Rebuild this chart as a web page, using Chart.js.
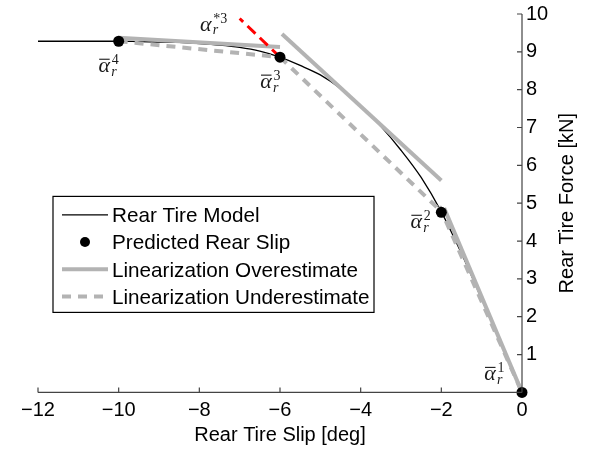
<!DOCTYPE html>
<html><head><meta charset="utf-8">
<script src="https://cdn.jsdelivr.net/npm/chart.js@4.4.0/dist/chart.umd.min.js"></script>
<style>html,body{margin:0;padding:0;background:#fff;}#wrap{width:595px;height:449px;}</style>
</head><body><div id="wrap"><canvas id="c" width="595" height="449"></canvas></div>
<script>
// ---- data ----
const modelSlip  = [-12, -11, -10, -9.5, -9, -8.5, -8, -7.5, -7, -6.5, -6, -5.5, -5, -4.5, -4, -3.5, -3, -2.5, -2, -1.5, -1, -0.5, 0];
const modelForce = [9.28, 9.28, 9.28, 9.27, 9.26, 9.25, 9.22, 9.18, 9.12, 9.02, 8.86, 8.64, 8.39, 8.03, 7.56, 7.03, 6.40, 5.68, 4.77, 3.67, 2.47, 1.24, 0];
const predSlip  = [-10, -6, -2, 0];
const predForce = [9.28, 8.86, 4.76, 0];
const predNames = ['4', '3', '2', '1'];
const overSlip  = [[-10, -6], [-5.95, -2], [-1.93, 0]];
const overForce = [[9.37, 9.13], [9.47, 5.6], [4.87, 0]];
const underSlip  = [[-10, -6], [-6, -2], [-2.05, 0]];
const underForce = [[9.28, 8.86], [8.86, 4.78], [4.92, 0]];
const extSlip  = [-6, -7];
const extForce = [8.86, 9.88];
const extName = '*3';
const xTicks = [-12, -10, -8, -6, -4, -2, 0];
const yTicks = [1, 2, 3, 4, 5, 6, 7, 8, 9, 10];
const legendLabels = ['Rear Tire Model', 'Predicted Rear Slip', 'Linearization Overestimate', 'Linearization Underestimate'];
const xTitle = 'Rear Tire Slip [deg]';
const yTitle = 'Rear Tire Force [kN]';

// ---- styles ----
const GRAY = '#b3b3b3';
const SANS = '"Liberation Sans", Arial, Helvetica, sans-serif';
const SERIF = '"Liberation Serif", "DejaVu Serif", serif';
const styleModel = {borderColor: '#000', borderWidth: 1.3, borderDash: []};
const styleOver = {borderColor: GRAY, borderWidth: 4, borderDash: []};
const styleUnder = {borderColor: GRAY, borderWidth: 4, borderDash: [9, 7]};
const styleExt = {borderColor: '#ff0000', borderWidth: 3, borderDash: [11, 6]};

function pts(xs, ys) { return xs.map((x, i) => ({x: x, y: ys[i]})); }
function fmt(v) { return v < 0 ? '\u2212' + Math.abs(v) : String(v); }

const datasets = [];
datasets.push({label: legendLabels[1], data: pts(predSlip, predForce), showLine: false, clip: false,
  pointRadius: 5.5, pointBackgroundColor: '#000', pointBorderWidth: 0, order: 0});
datasets.push(Object.assign({label: 'ext', data: pts(extSlip, extForce), showLine: true, clip: false, pointRadius: 0, order: 1}, styleExt));
underSlip.forEach((xs, i) => datasets.push(Object.assign({label: legendLabels[3], data: pts(xs, underForce[i]), showLine: true, clip: false, pointRadius: 0, order: 2}, styleUnder)));
overSlip.forEach((xs, i) => datasets.push(Object.assign({label: legendLabels[2], data: pts(xs, overForce[i]), showLine: true, clip: false, pointRadius: 0, order: 3}, styleOver)));
datasets.push(Object.assign({label: legendLabels[0], data: pts(modelSlip, modelForce), showLine: true, clip: false, pointRadius: 0,
  cubicInterpolationMode: 'monotone', order: 4}, styleModel));

function drawMath(ctx, cx, base, sup, bar) {
  ctx.fillStyle = '#1a1a1a';
  ctx.font = 'italic 22px ' + SERIF;
  ctx.textAlign = 'center';
  ctx.textBaseline = 'alphabetic';
  ctx.fillText('\u03B1', cx, base);
  if (bar) {
    ctx.strokeStyle = '#1a1a1a';
    ctx.lineWidth = 1.1;
    ctx.beginPath();
    ctx.moveTo(cx - 5, base - 13);
    ctx.lineTo(cx + 5.5, base - 13);
    ctx.stroke();
  }
  ctx.textAlign = 'left';
  ctx.font = '14px ' + SERIF;
  ctx.fillText(sup, cx + 7.5, base - 8);
  ctx.font = 'italic 14px ' + SERIF;
  ctx.fillText('r', cx + 7, base + 3.5);
}

const decor = {
  id: 'decor',
  afterDraw(chart) {
    const ctx = chart.ctx, a = chart.chartArea;
    const xs = chart.scales.x, ys = chart.scales.y;
    ctx.save();
    // axis lines + inward ticks
    ctx.strokeStyle = '#444';
    ctx.lineWidth = 1.2;
    ctx.beginPath();
    ctx.moveTo(a.left, a.bottom); ctx.lineTo(a.right, a.bottom);
    ctx.moveTo(a.right, a.top); ctx.lineTo(a.right, a.bottom);
    xTicks.forEach(v => { const p = xs.getPixelForValue(v); ctx.moveTo(p, a.bottom); ctx.lineTo(p, a.bottom - 5); });
    yTicks.forEach(v => { const p = ys.getPixelForValue(v); ctx.moveTo(a.right, p); ctx.lineTo(a.right - 5, p); });
    ctx.stroke();
    // titles
    ctx.fillStyle = '#000';
    ctx.font = '20px ' + SANS;
    ctx.textAlign = 'center';
    ctx.textBaseline = 'alphabetic';
    ctx.fillText(xTitle, (a.left + a.right) / 2, 441);
    ctx.save();
    ctx.translate(573, (a.top + a.bottom) / 2);
    ctx.rotate(-Math.PI / 2);
    ctx.fillText(yTitle, 0, 0);
    ctx.restore();
    // redraw predicted dots on top of axis
    // point labels
    const offs = [[-14.5, 31], [-14, 31], [-25, 16], [-32, -12]];
    predSlip.forEach((x, i) => {
      const px = xs.getPixelForValue(x), py = ys.getPixelForValue(predForce[i]);
      drawMath(ctx, px + offs[i][0], py + offs[i][1], predNames[i], true);
    });
    {
      const px = xs.getPixelForValue(extSlip[1]), py = ys.getPixelForValue(extForce[1]);
      drawMath(ctx, px - 34, py + 12, extName, false);
    }
    // legend
    const L = a.left + 15, T = a.top + 182.4, W = 321, H = 116;
    ctx.fillStyle = '#fff';
    ctx.fillRect(L, T, W, H);
    ctx.strokeStyle = '#000';
    ctx.lineWidth = 1.2;
    ctx.strokeRect(L, T, W, H);
    const rows = [styleModel, null, styleOver, styleUnder];
    rows.forEach((st, i) => {
      const cy = T + 18.4 + i * 27.2;
      if (st) {
        ctx.strokeStyle = st.borderColor; ctx.lineWidth = st.borderWidth;
        ctx.setLineDash(st.borderDash);
        ctx.beginPath(); ctx.moveTo(L + 9, cy); ctx.lineTo(L + 55, cy); ctx.stroke();
        ctx.setLineDash([]);
      } else {
        ctx.fillStyle = '#000';
        ctx.beginPath(); ctx.arc(L + 32, cy, 5, 0, Math.PI * 2); ctx.fill();
      }
      ctx.fillStyle = '#000';
      ctx.font = '20.7px ' + SANS;
      ctx.textAlign = 'left';
      ctx.fillText(legendLabels[i], L + 59, cy + 7.4);
    });
    ctx.restore();
  }
};

new Chart(document.getElementById('c'), {
  type: 'scatter',
  data: {datasets: datasets},
  options: {
    responsive: false, animation: false, devicePixelRatio: 1,
    layout: {padding: {left: 38, top: 10.9, right: 0, bottom: 0}},
    plugins: {legend: {display: false}, tooltip: {enabled: false}},
    scales: {
      x: {type: 'linear', position: 'bottom', min: -12, max: 0,
        afterBuildTicks: s => { s.ticks = xTicks.map(v => ({value: v})); },
        afterFit: s => { s.height = 56.6; },
        grid: {display: false, drawTicks: false}, border: {display: false},
        ticks: {padding: 8, color: '#000', maxRotation: 0, autoSkip: false,
          font: {family: SANS, size: 20, lineHeight: 1}, callback: v => fmt(v)}},
      y: {type: 'linear', position: 'right', min: 0, max: 10,
        afterBuildTicks: s => { s.ticks = yTicks.map(v => ({value: v})); },
        afterFit: s => { s.width = 73; },
        grid: {display: false, drawTicks: false}, border: {display: false},
        ticks: {padding: 4, color: '#000', autoSkip: false,
          font: {family: SANS, size: 20, lineHeight: 1}, callback: v => fmt(v)}}
    }
  },
  plugins: [decor]
});
</script></body></html>
